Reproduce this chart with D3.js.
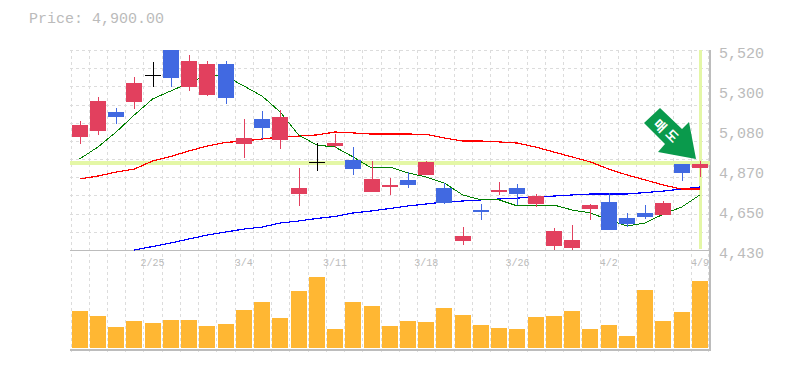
<!DOCTYPE html>
<html><head><meta charset="utf-8">
<script src="https://cdn.jsdelivr.net/npm/d3@7"></script>
<style>
html,body{margin:0;padding:0;background:#fff;}
svg{display:block;}
text{font-family:"Liberation Mono",monospace;fill:#bbb;}
</style></head><body>
<svg id="c" width="785" height="370"></svg>
<script>
const dates=["2/19","2/20","2/21","2/22","2/25","2/26","2/27","2/28","3/1","3/4","3/5","3/6","3/7","3/8","3/11","3/12","3/13","3/14","3/15","3/18","3/19","3/20","3/21","3/22","3/26","3/27","3/28","3/29","4/1","4/2","4/3","4/4","4/5","4/8","4/9"];
const dateTicks=["2/25","3/4","3/11","3/18","3/26","4/2","4/9"];
const priceLabels=[5520,5300,5080,4870,4650,4430];
const open =[5046,5079,5182,5237,5384,5520,5318,5275,5444,5008,5144,5030,4735,4910,4997,4920,4746,4773,4812,4839,4768,4479,4648,4746,4768,4681,4452,4441,4653,4692,4604,4632,4621,4899,4877];
const high =[5133,5264,5204,5373,5455,5520,5493,5460,5460,5144,5188,5193,4877,5013,5062,4991,4915,4822,4855,4915,4795,4555,4681,4801,4790,4735,4550,4566,4681,4741,4632,4675,4697,4899,4915];
const low  =[5008,5057,5117,5198,5318,5318,5297,5269,5226,4931,5035,4980,4670,4861,4986,4839,4746,4730,4768,4839,4681,4457,4594,4730,4675,4664,4430,4430,4594,4539,4555,4599,4621,4806,4828];
const close=[5111,5242,5155,5340,5384,5367,5460,5444,5258,5040,5095,5155,4768,4910,5013,4871,4817,4784,4784,4910,4686,4506,4637,4757,4735,4724,4534,4485,4675,4539,4572,4610,4686,4850,4900];
const ma5 =[4926,4991,5073,5166,5253,5297,5340,5384,5378,5324,5269,5182,5057,5002,4991,4937,4877,4882,4850,4828,4795,4730,4703,4703,4670,4675,4675,4648,4632,4594,4561,4577,4626,4664,4730];
const ma20=[4817,4833,4855,4871,4915,4940,4970,4997,5016,5024,5035,5046,5051,5057,5073,5068,5062,5062,5062,5060,5040,5024,5024,5019,5013,4991,4964,4937,4910,4871,4839,4812,4784,4762,4762];
const ma60=[null,null,null,4430,4449,4468,4490,4512,4528,4544,4555,4577,4588,4602,4613,4632,4643,4656,4670,4681,4692,4697,4703,4708,4713,4719,4724,4730,4735,4735,4735,4743,4751,4762,4773];
const volume=[37,32,21,27,25,28,28,22,24,38,46,30,57,71,19,46,42,22,27,26,40,33,23,20,19,31,32,37,19,23,12,58,27,36,67];
const currentPrice=4900;
const signalText=["매","도"];

const svg=d3.select("#c");
const x=d3.scaleBand().domain(dates).range([70.5,709]);
const y=d3.scaleLinear().domain([4430,5520]).range([250,50]);
const v=d3.scaleLinear().domain([0,100]).range([348,248]);
const cx=d=>x(d)+x.bandwidth()/2;
const RED="#e2405e",BLUE="#4169e1",GRID="#dcdcdc",AXIS="#bcbcbc";
const crisp=s=>s.attr("shape-rendering","crispEdges");

// grid
const hGrid=d3.scaleLinear().domain([0,11]).range([50,250]);
crisp(svg.append("g").selectAll("line").data(d3.range(0,11)).join("line")
  .attr("x1",70).attr("x2",709)
  .attr("y1",d=>Math.round(hGrid(d))+.5).attr("y2",d=>Math.round(hGrid(d))+.5)
  .attr("stroke",GRID).attr("stroke-dasharray","3,3"));
crisp(svg.append("g").selectAll("line").data([...dates.map(d=>x(d)),x.range()[1]-.8]).join("line")
  .attr("x1",d=>Math.round(d)+.5).attr("x2",d=>Math.round(d)+.5)
  .attr("y1",50).attr("y2",352)
  .attr("stroke",GRID).attr("stroke-dasharray","3,3"));

// volume
crisp(svg.append("g").selectAll("rect").data(dates).join("rect")
  .attr("x",d=>Math.round(cx(d))-8).attr("width",16)
  .attr("y",(d,i)=>v(volume[i])).attr("height",(d,i)=>v(0)-v(volume[i]))
  .attr("fill","#ffb733"));

// frame
const frame=svg.append("g").attr("stroke",AXIS);
crisp(frame.append("line").attr("x1",70).attr("x2",710).attr("y1",250.5).attr("y2",250.5).attr("stroke-width",1.5));
crisp(frame.append("line").attr("x1",70).attr("x2",711).attr("y1",350).attr("y2",350).attr("stroke-width",2));
crisp(frame.append("line").attr("x1",710).attr("x2",710).attr("y1",50).attr("y2",351).attr("stroke-width",2));

// current price guides
crisp(svg.append("line").attr("x1",70).attr("x2",710).attr("y1",y(currentPrice)-.5).attr("y2",y(currentPrice)-.5)
  .attr("stroke","#e4f7a6").attr("stroke-width",4));
crisp(svg.append("line").attr("x1",cx(dates[34])+.5).attr("x2",cx(dates[34])+.5).attr("y1",50).attr("y2",249)
  .attr("stroke","#e4f7a6").attr("stroke-width",3));

// moving averages
[[ma60,"#0000ff",1.2],[ma20,"#ff0000",1.2],[ma5,"#008000",1]].forEach(([a,c,w])=>{
  crisp(svg.append("path").attr("d",d3.line().defined(d=>d!=null).x((d,i)=>cx(dates[i])).y(d=>y(d))(a))
    .attr("fill","none").attr("stroke",c).attr("stroke-width",w));
});

// candles
const col=i=>close[i]>open[i]?RED:close[i]<open[i]?BLUE:"#000";
const cg=svg.append("g").selectAll("g").data(dates).join("g");
crisp(cg.append("rect").attr("x",d=>Math.round(cx(d))).attr("width",1)
  .attr("y",(d,i)=>Math.round(y(high[i]))).attr("height",(d,i)=>Math.max(1,Math.round(y(low[i]))-Math.round(y(high[i]))))
  .attr("fill",(d,i)=>col(i)));
crisp(cg.append("rect").attr("x",d=>Math.round(cx(d))-8).attr("width",16)
  .attr("y",(d,i)=>Math.round(y(Math.max(open[i],close[i]))))
  .attr("height",(d,i)=>Math.max(1,Math.round(y(Math.min(open[i],close[i])))-Math.round(y(Math.max(open[i],close[i])))))
  .attr("fill",(d,i)=>col(i)));

// signal arrow
const arrow=svg.append("g").attr("transform","translate(696,159)");
arrow.append("path").attr("d","M-36,-51L-52,-36L-31,-15L-38,-7L0,0L-7,-37L-14,-30Z").attr("fill","#0a9a4c");
arrow.selectAll("text").data(signalText).join("text")
  .attr("transform",(d,i)=>`translate(${-36+i*12},${-33+i*10}) rotate(45)`)
  .attr("text-anchor","middle").attr("dy","0.36em")
  .style("font-family","'Noto Sans CJK KR'").style("font-weight",700).style("font-size","13px").style("fill","#fff")
  .text(d=>d);

// axes
const yLab=d3.scalePoint().domain(priceLabels).range([50,250]);
const ay=svg.append("g").attr("transform","translate(710,0)")
  .call(d3.axisRight(yLab).tickSize(0).tickPadding(9).tickFormat(d3.format(",")));
ay.select(".domain").remove();
ay.selectAll("text").attr("dy",null).attr("y",7.5).style("font-family","'Liberation Mono'").style("font-size","15px").style("fill","#bbb");
const ax=svg.append("g").attr("transform","translate(0,250)")
  .call(d3.axisBottom(x).tickValues(dateTicks).tickSize(0).tickPadding(0));
ax.select(".domain").remove();
ax.selectAll("text").attr("dy",null).attr("y",16).style("font-family","'Liberation Mono'").style("font-size","10px").style("fill","#bbb");

svg.append("text").attr("x",29).attr("y",23).style("font-size","15px").text("Price: "+d3.format(",.2f")(currentPrice));
</script></body></html>
